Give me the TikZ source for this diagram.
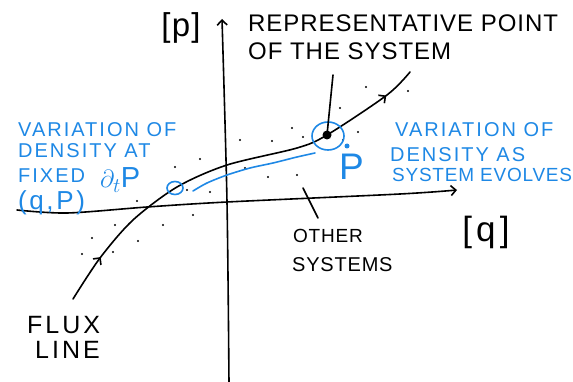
\documentclass[tikz,border=0pt]{standalone}
\usepackage{fontspec}
\setmainfont{Liberation Sans}
\newfontfamily\handb[LetterSpace=4]{Liberation Sans}
\newfontfamily\handc[LetterSpace=10]{Liberation Sans}
\newfontfamily\handw[LetterSpace=12]{Liberation Sans}
\usetikzlibrary{arrows.meta,decorations.markings}
\definecolor{pen}{RGB}{30,136,229}
\begin{document}
\begin{tikzpicture}[x=1pt,y=-1pt,
  ink/.style={line width=1.6pt, line cap=round, line join=round},
  blueink/.style={ink, draw=pen},
  barbtip/.style={-{Straight Barb[length=5pt,width=10pt,line width=1.6pt]}},
  blk/.style={inner sep=0pt, anchor=base west, font=\handb\fontsize{24}{24}\selectfont},
  blu/.style={inner sep=0pt, anchor=base west, text=pen, font=\handc\fontsize{20}{20}\selectfont},
  spot/.style={circle, fill=black, inner sep=0pt, minimum size=2.4pt}]
\useasboundingbox (0,0) rectangle (573,382);

% axes
\coordinate (vbot) at (229,384);
\coordinate (vmid) at (227,202);
\coordinate (vtop) at (222,19);
\draw[ink, barbtip] plot[smooth] coordinates {(vbot) (vmid) (vtop)};
\coordinate (hl) at (17,210);
\coordinate (hr) at (457,190);
\draw[ink, barbtip] plot[smooth] coordinates {(hl) (67,213) (147,207) (227,202) (400,194) (hr)};

\node[inner sep=0pt, font=\handb\fontsize{33}{33}\selectfont] (plab) at (181,28) {[p]};
\node[inner sep=0pt, font=\handw\fontsize{35}{35}\selectfont] (qlab) at (486,232) {[q]};

% scattered systems
\foreach \a/\b [count=\i] in {366/87,408/91,340/108,292/128,303/137,358/132,343/140,240/140,272/141,200/159,175/167,245/168,268/177,297/175,187/190,210/192,137/201,193/215,163/225,115/225,92/238,138/241,82/254,113/252}
  \node[spot] (s\i) at (\a,\b) {};

% flux line
\draw[ink, decoration={markings,
    mark=at position 0.12 with {\arrow{Straight Barb[length=5pt,width=10pt,line width=1.6pt]}},
    mark=at position 0.92 with {\arrow{Straight Barb[length=5pt,width=10pt,line width=1.6pt]}}},
    postaction={decorate}]
  plot[smooth] coordinates {(73,299) (100,258) (133,220) (177,187) (227,165) (297,148) (327,135) (387,95) (410,72)};

% representative point
\node[circle, fill=black, inner sep=0pt, minimum size=9pt] (rep) at (327,135) {};
\draw[blueink] (328,136) ellipse [x radius=16pt, y radius=14pt];
\draw[blueink] (175,188) ellipse [x radius=8pt, y radius=6.5pt];
\draw[blueink] plot[smooth] coordinates {(193,191) (207,183) (227,175) (250,168) (273,163) (297,157) (315,153)};
\node[circle, fill=pen, inner sep=0pt, minimum size=5pt] (pdot) at (347,146) {};
\node[inner sep=0pt, anchor=base west, text=pen, font=\fontsize{37}{37}\selectfont] (Pbig) at (339,180) {P};

% black labels
\node[blk] (rp1) at (248,32) {REPRESENTATIVE POINT};
\node[blk] (rp2) at (248,60) {OF THE SYSTEM};
\coordinate (ptr) at (333,75);
\draw[ink] (ptr) -- (rep.center);

\node[blk, font=\handb\fontsize{19}{19}\selectfont] (os1) at (293,243) {OTHER};
\node[blk, font=\handb\fontsize{20}{20}\selectfont] (os2) at (292,272) {SYSTEMS};
\coordinate (osa) at (303,188);
\coordinate (osb) at (318,218);
\draw[ink] (osa) -- (osb);

\node[blk, font=\handw\fontsize{25}{25}\selectfont] (fl1) at (27,333) {FLUX};
\node[blk, font=\handw\fontsize{25}{25}\selectfont] (fl2) at (35,358) {LINE};

% blue labels left
\node[blu] (l1) at (18,137) {VARIATION OF};
\node[blu] (l2) at (18,158) {DENSITY AT};
\node[blu] (l3) at (18,183) {FIXED};
\node[blu, font=\fontsize{29}{29}\selectfont] (l4) at (100,188) {$\partial_t$P};
\node[blu, font=\handc\fontsize{26}{26}\selectfont] (l5) at (18,210) {(q,P)};

% blue labels right
\node[blu] (r1) at (395,137) {VARIATION OF};
\node[blu] (r2) at (390,162) {DENSITY AS};
\node[blu, font=\handb\fontsize{19}{19}\selectfont] (r3) at (392,182) {SYSTEM EVOLVES};
\end{tikzpicture}
\end{document}
